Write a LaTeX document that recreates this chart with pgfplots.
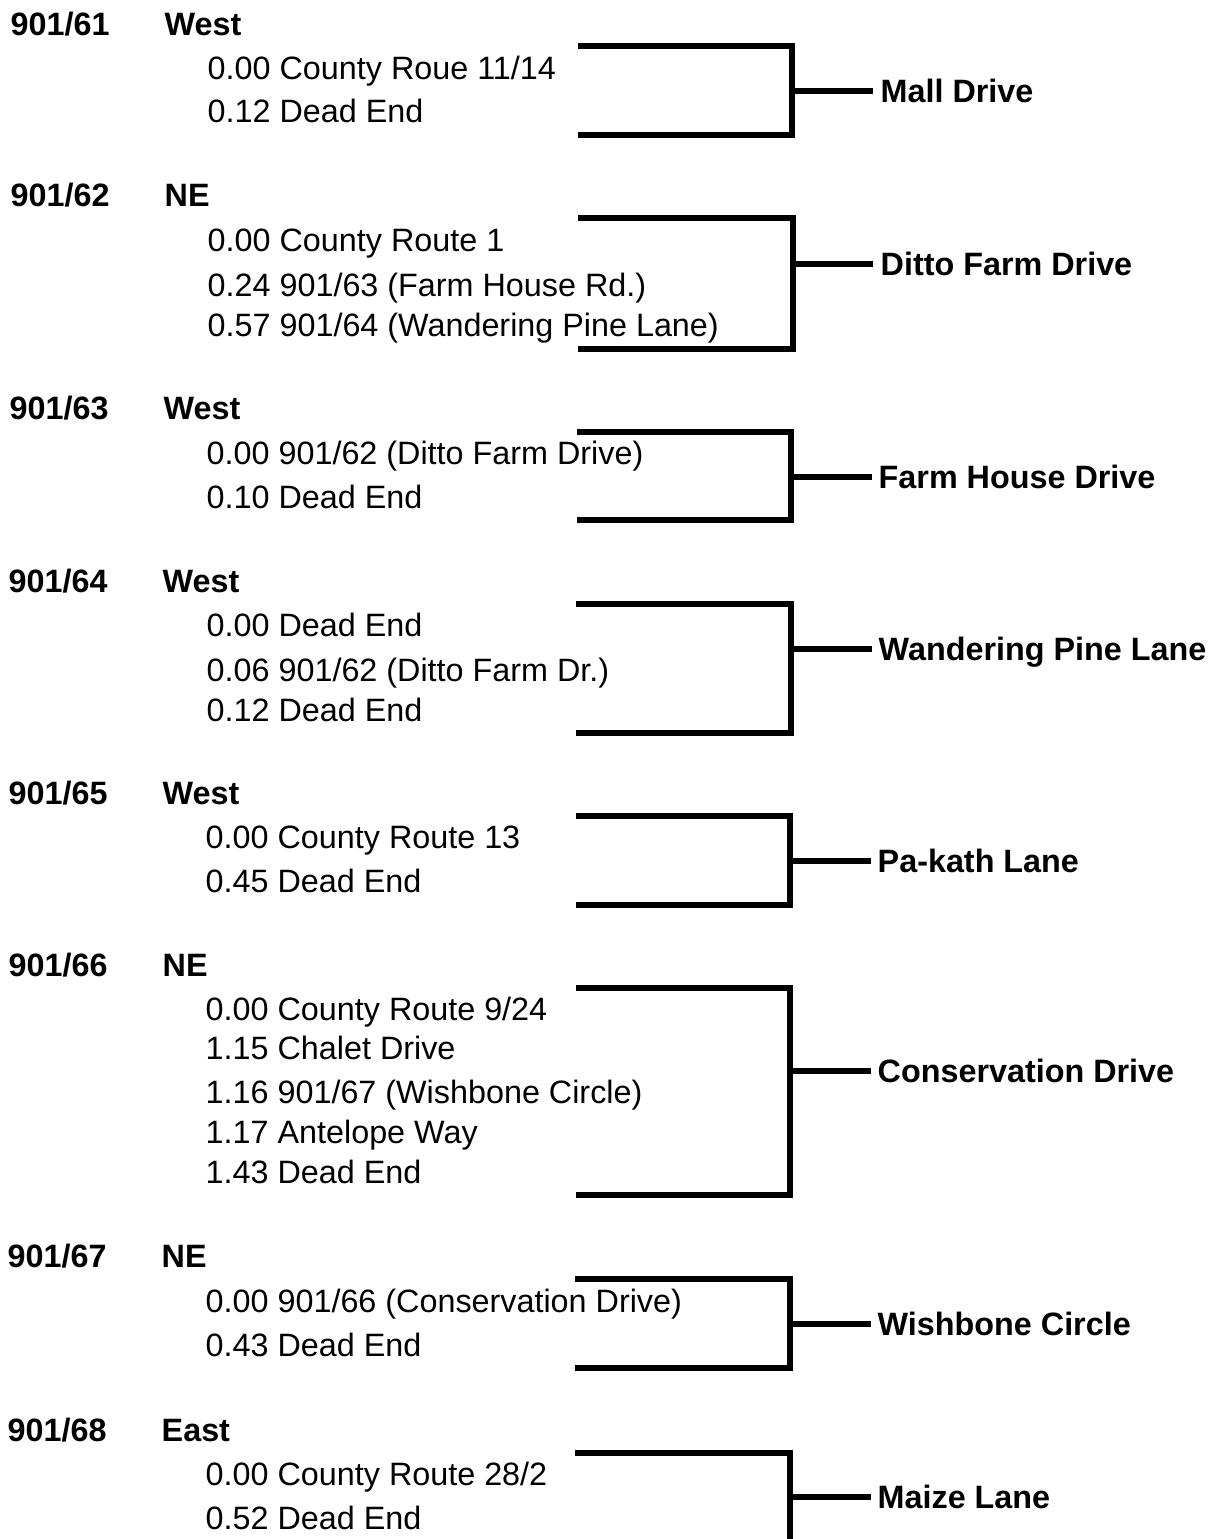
\documentclass[border=0pt]{standalone}
\usepackage{fontspec}
\setmainfont{Liberation Sans}
\usepackage{pgfplots}
\pgfplotsset{compat=1.18}
\newcommand{\fs}{\fontsize{9.2pt}{11pt}\selectfont}
\begin{document}
\begin{tikzpicture}
\begin{axis}[
  scale only axis, width=12.10cm, height=15.39cm,
  xmin=0, xmax=1210, ymin=0, ymax=1539, y dir=reverse,
  hide axis, clip=true,
  br/.style={black, solid, line width=1.45pt, line join=miter, mark=none},
  nodes={inner sep=0pt, anchor=base west, font=\fs},
]
% invisible frame so that the page is exactly the axis box
\addplot[draw=none, mark=none] coordinates {(0,0)(1210,1539)};
% brackets
\addplot[br] coordinates {(578,46)(792,46)(792,135)(578,135)};
\addplot[br] coordinates {(792,91)(873,91)};
\addplot[br] coordinates {(578,218)(793,218)(793,349)(578,349)};
\addplot[br] coordinates {(793,264)(873,264)};
\addplot[br] coordinates {(577,432)(791,432)(791,520)(577,520)};
\addplot[br] coordinates {(791,477)(872,477)};
\addplot[br] coordinates {(576,604)(791,604)(791,733)(576,733)};
\addplot[br] coordinates {(791,649)(872,649)};
\addplot[br] coordinates {(576,816)(790,816)(790,905)(576,905)};
\addplot[br] coordinates {(790,861)(871,861)};
\addplot[br] coordinates {(576,988)(790,988)(790,1195)(576,1195)};
\addplot[br] coordinates {(790,1071)(871,1071)};
\addplot[br] coordinates {(575,1279)(790,1279)(790,1368)(575,1368)};
\addplot[br] coordinates {(790,1324)(871,1324)};
\addplot[br] coordinates {(575,1453)(790,1453)(790,1539)};
\addplot[br] coordinates {(790,1497)(871,1497)};
% group 1
\node[font=\bfseries\fs] at (axis cs:10,35.5) {901/61};
\node[font=\bfseries\fs] at (axis cs:164,35.5) {West};
\node at (axis cs:207,79.5) {0.00 County Roue 11/14};
\node at (axis cs:207,122.5) {0.12 Dead End};
\node[font=\bfseries\fs] at (axis cs:880,102.5) {Mall Drive};
% group 2
\node[font=\bfseries\fs] at (axis cs:10,206.5) {901/62};
\node[font=\bfseries\fs] at (axis cs:164,206.5) {NE};
\node at (axis cs:207,251.5) {0.00 County Route 1};
\node at (axis cs:207,296.5) {0.24 901/63 (Farm House Rd.)};
\node at (axis cs:207,336.5) {0.57 901/64 (Wandering Pine Lane)};
\node[font=\bfseries\fs] at (axis cs:880,275.5) {Ditto Farm Drive};
% group 3
\node[font=\bfseries\fs] at (axis cs:9,419.5) {901/63};
\node[font=\bfseries\fs] at (axis cs:163,419.5) {West};
\node at (axis cs:206,464.5) {0.00 901/62 (Ditto Farm Drive)};
\node at (axis cs:206,508.5) {0.10 Dead End};
\node[font=\bfseries\fs] at (axis cs:878,488.5) {Farm House Drive};
% group 4
\node[font=\bfseries\fs] at (axis cs:8,592.5) {901/64};
\node[font=\bfseries\fs] at (axis cs:162,592.5) {West};
\node at (axis cs:206,636.5) {0.00 Dead End};
\node at (axis cs:206,681.5) {0.06 901/62 (Ditto Farm Dr.)};
\node at (axis cs:206,721.5) {0.12 Dead End};
\node[font=\bfseries\fs] at (axis cs:878,660.5) {Wandering Pine Lane};
% group 5
\node[font=\bfseries\fs] at (axis cs:8,804.5) {901/65};
\node[font=\bfseries\fs] at (axis cs:162,804.5) {West};
\node at (axis cs:205,848.5) {0.00 County Route 13};
\node at (axis cs:205,892.5) {0.45 Dead End};
\node[font=\bfseries\fs] at (axis cs:877,872.5) {Pa-kath Lane};
% group 6
\node[font=\bfseries\fs] at (axis cs:8,976.5) {901/66};
\node[font=\bfseries\fs] at (axis cs:162,976.5) {NE};
\node at (axis cs:205,1020.5) {0.00 County Route 9/24};
\node at (axis cs:205,1059.5) {1.15 Chalet Drive};
\node at (axis cs:205,1103.5) {1.16 901/67 (Wishbone Circle)};
\node at (axis cs:205,1143.5) {1.17 Antelope Way};
\node at (axis cs:205,1183.5) {1.43 Dead End};
\node[font=\bfseries\fs] at (axis cs:877,1082.5) {Conservation Drive};
% group 7
\node[font=\bfseries\fs] at (axis cs:7,1267.5) {901/67};
\node[font=\bfseries\fs] at (axis cs:161,1267.5) {NE};
\node at (axis cs:205,1312.5) {0.00 901/66 (Conservation Drive)};
\node at (axis cs:205,1356.5) {0.43 Dead End};
\node[font=\bfseries\fs] at (axis cs:877,1335.5) {Wishbone Circle};
% group 8
\node[font=\bfseries\fs] at (axis cs:7,1441.5) {901/68};
\node[font=\bfseries\fs] at (axis cs:161,1441.5) {East};
\node at (axis cs:205,1485.5) {0.00 County Route 28/2};
\node at (axis cs:205,1529.5) {0.52 Dead End};
\node[font=\bfseries\fs] at (axis cs:877,1508.5) {Maize Lane};
\end{axis}
\end{tikzpicture}
\end{document}
